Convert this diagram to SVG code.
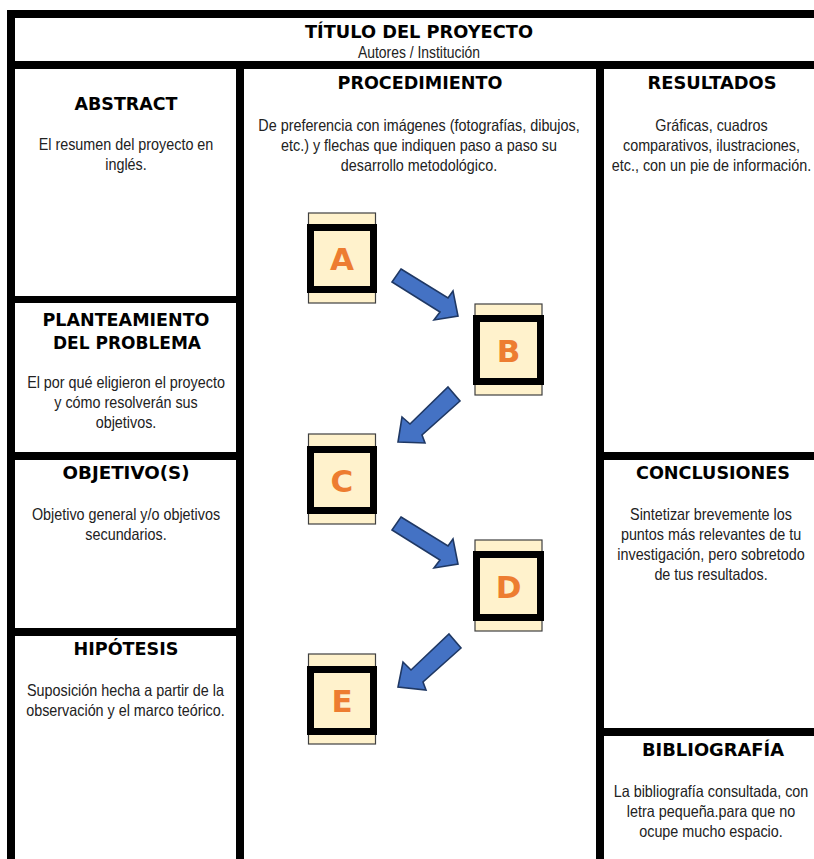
<svg xmlns="http://www.w3.org/2000/svg" width="814" height="859" viewBox="0 0 814 859">
<style>
.bar{fill:#000}
.h{font-family:"DejaVu Sans","Liberation Sans",sans-serif;font-weight:bold;font-size:17.5px;fill:#000;text-anchor:middle}
.t{font-family:"Liberation Sans",Arial,sans-serif;font-size:16.5px;fill:#222;text-anchor:middle}
.sub{font-family:"Liberation Sans",Arial,sans-serif;font-size:16px;fill:#222;text-anchor:middle}
.card{fill:#FFF2CC;stroke:#404040;stroke-width:1.2}
.sq{fill:#FFF2CC;stroke:#000;stroke-width:7}
.lt{font-family:"DejaVu Sans","Liberation Sans",sans-serif;font-weight:bold;font-size:31px;fill:#ED7D31;text-anchor:middle}
.arr{fill:#4472C4;stroke:#1F3864;stroke-width:1.6;stroke-linejoin:miter}
</style>
<rect width="814" height="859" fill="#fff"/>
<g id="frame">
<rect class="bar" x="7" y="10" width="807" height="8"/>
<rect class="bar" x="7" y="10" width="8" height="849"/>
<rect class="bar" x="7" y="61" width="807" height="8"/>
<rect class="bar" x="236" y="61" width="8" height="798"/>
<rect class="bar" x="596" y="61" width="8" height="798"/>
<rect class="bar" x="7" y="296" width="237" height="7"/>
<rect class="bar" x="7" y="452" width="237" height="8"/>
<rect class="bar" x="7" y="628" width="237" height="8"/>
<rect class="bar" x="596" y="452" width="218" height="8"/>
<rect class="bar" x="596" y="728" width="218" height="8"/>
</g>
<g id="titulo">
<text class="h" x="419" y="38" textLength="228" lengthAdjust="spacingAndGlyphs">TÍTULO DEL PROYECTO</text>
<g transform="translate(419 0) scale(0.87 1)"><text class="sub" x="0" y="58">Autores / Institución</text></g>
</g>
<g id="abstract">
<text class="h" x="126" y="110" textLength="103" lengthAdjust="spacingAndGlyphs">ABSTRACT</text>
<g transform="translate(126 0) scale(0.87 1)">
<text class="t" x="0" y="150">El resumen del proyecto en</text>
<text class="t" x="0" y="170">inglés.</text>
</g>
</g>
<g id="planteamiento">
<text class="h" x="126" y="326" textLength="167" lengthAdjust="spacingAndGlyphs">PLANTEAMIENTO</text>
<text class="h" x="127" y="349" textLength="148" lengthAdjust="spacingAndGlyphs">DEL PROBLEMA</text>
<g transform="translate(126 0) scale(0.87 1)">
<text class="t" x="0" y="388">El por qué eligieron el proyecto</text>
<text class="t" x="0" y="408">y cómo resolverán sus</text>
<text class="t" x="0" y="428">objetivos.</text>
</g>
</g>
<g id="objetivos">
<text class="h" x="126" y="479" textLength="127" lengthAdjust="spacingAndGlyphs">OBJETIVO(S)</text>
<g transform="translate(126 0) scale(0.87 1)">
<text class="t" x="0" y="520">Objetivo general y/o objetivos</text>
<text class="t" x="0" y="540">secundarios.</text>
</g>
</g>
<g id="hipotesis">
<text class="h" x="126" y="655" textLength="105" lengthAdjust="spacingAndGlyphs">HIPÓTESIS</text>
<g transform="translate(125.5 0) scale(0.87 1)">
<text class="t" x="0" y="696">Suposición hecha a partir de la</text>
<text class="t" x="0" y="716">observación y el marco teórico.</text>
</g>
</g>
<g id="procedimiento">
<text class="h" x="420" y="89" textLength="165" lengthAdjust="spacingAndGlyphs">PROCEDIMIENTO</text>
<g transform="translate(419 0) scale(0.87 1)">
<text class="t" x="0" y="131">De preferencia con imágenes (fotografías, dibujos,</text>
<text class="t" x="0" y="151">etc.) y flechas que indiquen paso a paso su</text>
<text class="t" x="0" y="171">desarrollo metodológico.</text>
</g>
</g>
<g id="resultados">
<text class="h" x="712" y="89" textLength="129" lengthAdjust="spacingAndGlyphs">RESULTADOS</text>
<g transform="translate(711.5 0) scale(0.87 1)">
<text class="t" x="0" y="131">Gráficas, cuadros</text>
<text class="t" x="0" y="151">comparativos, ilustraciones,</text>
<text class="t" x="0" y="171">etc., con un pie de información.</text>
</g>
</g>
<g id="conclusiones">
<text class="h" x="713" y="479" textLength="154" lengthAdjust="spacingAndGlyphs">CONCLUSIONES</text>
<g transform="translate(711 0) scale(0.87 1)">
<text class="t" x="0" y="520">Sintetizar brevemente los</text>
<text class="t" x="0" y="540">puntos más relevantes de tu</text>
<text class="t" x="0" y="560">investigación, pero sobretodo</text>
<text class="t" x="0" y="580">de tus resultados.</text>
</g>
</g>
<g id="bibliografia">
<text class="h" x="713" y="756" textLength="142" lengthAdjust="spacingAndGlyphs">BIBLIOGRAFÍA</text>
<g transform="translate(711 0) scale(0.87 1)">
<text class="t" x="0" y="797">La bibliografía consultada, con</text>
<text class="t" x="0" y="817">letra pequeña.para que no</text>
<text class="t" x="0" y="837">ocupe mucho espacio.</text>
</g>
</g>
<g id="paso-A">
<rect class="card" x="308.5" y="213" width="67" height="90"/>
<rect class="sq" x="310.5" y="227.5" width="63" height="62"/>
<text class="lt" x="342" y="270">A</text>
</g>
<g id="paso-B">
<rect class="card" x="475" y="304" width="67" height="91"/>
<rect class="sq" x="476.5" y="318.5" width="64" height="63"/>
<text class="lt" x="508.5" y="361.5">B</text>
</g>
<g id="paso-C">
<rect class="card" x="308.5" y="434" width="67" height="90"/>
<rect class="sq" x="310.5" y="449.5" width="63" height="61"/>
<text class="lt" x="342" y="491.5">C</text>
</g>
<g id="paso-D">
<rect class="card" x="475" y="540" width="67" height="91"/>
<rect class="sq" x="476.5" y="554.5" width="64" height="63"/>
<text class="lt" x="508.5" y="597.5">D</text>
</g>
<g id="paso-E">
<rect class="card" x="308.5" y="654" width="67" height="90"/>
<rect class="sq" x="310.5" y="669.5" width="63" height="62"/>
<text class="lt" x="342" y="712">E</text>
</g>
<g id="connectors">
<path class="arr" d="M401,269 L448,298 L453,291 L458,316 L434,320 L440,312 L392,282 Z"/>
<path class="arr" d="M448,387 L460,401 L422,435 L425,443 L398,442 L402,417 L410,424 Z"/>
<path class="arr" d="M401,517 L448,546 L453,539 L458,564 L434,568 L440,560 L392,530 Z"/>
<path class="arr" d="M449,634 L461,648 L423,682 L426,690 L398,687 L403,662 L411,670 Z"/>
</g>
</svg>
